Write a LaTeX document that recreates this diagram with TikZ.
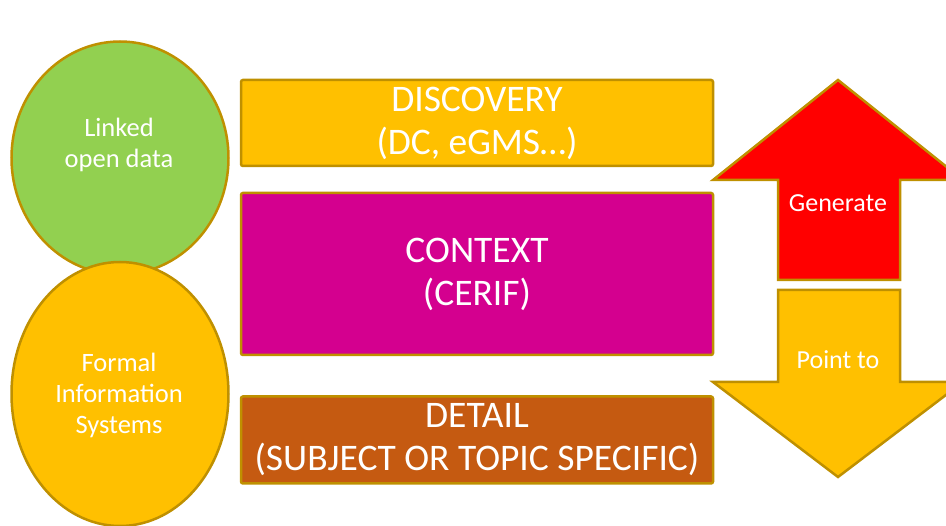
\documentclass[tikz,border=0pt]{standalone}
\usepackage{fontspec}
\setmainfont{Carlito}
\usepackage{xcolor}
\usepackage{tikz}
\usetikzlibrary{shapes.geometric}
\definecolor{edgegold}{HTML}{BF9000}
\definecolor{lodgreen}{HTML}{92D050}
\definecolor{fisorange}{HTML}{FFC000}
\definecolor{ctxmagenta}{HTML}{D4008F}
\definecolor{detbrown}{HTML}{C55A11}
\definecolor{genred}{HTML}{FF0000}
\tikzstyle{source} = [ellipse, minimum width=217pt, draw=edgegold, line width=2.5pt, inner sep=0pt]
\tikzstyle{sourcetext} = [text=white, align=center, font=\fontsize{26.5}{31}\selectfont]
\tikzstyle{layer} = [rectangle, rounded corners=2pt, minimum width=472pt, draw=edgegold, line width=2.5pt, inner sep=0pt, text=white, align=center, font=\fontsize{37.5}{43}\selectfont]
\tikzstyle{bigarrow} = [draw=edgegold, line width=2.5pt, line join=miter]
\tikzstyle{arrowtext} = [text=white, font=\fontsize{26}{28}\selectfont]
\begin{document}
\begin{tikzpicture}[x=1pt, y=-1pt]
\useasboundingbox (0,0) rectangle (946,526);
% sources on the left
\node (lod) [source, fill=lodgreen, minimum height=233pt] at (120,158) {};
\node (fis) [source, fill=fisorange, minimum height=264pt] at (120,394) {};
\node (lodtext) [sourcetext] at (119,145) {Linked\\open data};
\node (fistext) [sourcetext] at (119,395) {Formal\\Information\\Systems};

% the three layers
\node (disc) [layer, fill=fisorange, minimum height=86pt] at (477,123) {DISCOVERY\\(DC, eGMS…)};
\node (ctx) [layer, fill=ctxmagenta, minimum height=162pt] at (477,274) {CONTEXT\\(CERIF)};
\node (det) [layer, fill=detbrown, minimum height=87pt] at (477,440) {DETAIL\\(SUBJECT OR TOPIC SPECIFIC)};

% generate / point to
\draw [bigarrow, fill=genred] (838,80) -- (963,180) -- (900,180) -- (900,280) -- (778,280) -- (778,180) -- (713,180) -- cycle;
\draw [bigarrow, fill=fisorange] (778,290) -- (900,290) -- (900,382) -- (963,382) -- (838,477) -- (713,382) -- (778,382) -- cycle;
\node (gen) [arrowtext] at (838,203) {Generate};
\node (pointto) [arrowtext] at (838,360) {Point to};
\end{tikzpicture}
\end{document}
